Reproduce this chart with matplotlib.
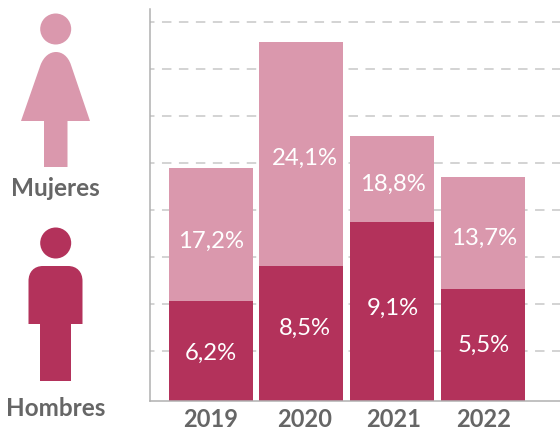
import matplotlib
matplotlib.use("Agg")
import matplotlib.pyplot as plt
from matplotlib.patches import Circle, PathPatch
from matplotlib.path import Path

plt.rcParams["font.family"] = "Lato"

# Data: bar heights do not follow the printed percentages, so both are kept
years = ["2019", "2020", "2021", "2022"]
hombres_alto = [100, 135, 179, 112]
mujeres_alto = [133, 224, 86, 112]
hombres_txt = ["6,2%", "8,5%", "9,1%", "5,5%"]
mujeres_txt = ["17,2%", "24,1%", "18,8%", "13,7%"]
grid_vals = [50, 97, 144, 191, 238, 285, 332, 379]

# Positions
bar_x = [0, 0.99, 2, 3]
hombres_y = [48, 73, 93, 56]
mujeres_y = [160, 243, 217, 163]
label_x = [0, 1.03, 2.01, 3.01]

ROSA = "#da98ad"
GRANATE = "#b3325b"
GRIS = "#666666"
W, H = 560, 430

fig = plt.figure(figsize=(W / 100, H / 100), dpi=100)
fig.patch.set_facecolor("white")

# Step 1: stacked bars
ax = fig.add_axes([149.5 / W, (H - 401.3) / H, (W - 149.5) / W, 392 / H])
ax.hlines(grid_vals, -0.733, 4, color="#c8c8c8", lw=1.1, linestyles=[(0, (6.2, 4.9))], zorder=1)
ax.bar(bar_x, hombres_alto, width=0.926, color=GRANATE, zorder=2)
ax.bar(bar_x, mujeres_alto, width=0.926, bottom=hombres_alto, color=ROSA, zorder=2)

for i in range(len(years)):
    ax.text(label_x[i], hombres_y[i], hombres_txt[i], color="white", fontsize=17.2,
            ha="center", va="center", zorder=3)
    ax.text(label_x[i], mujeres_y[i], mujeres_txt[i], color="white", fontsize=17.2,
            ha="center", va="center", zorder=3)

ax.set_xlim(-0.678, 3.849)
ax.set_ylim(0, 392)
ax.set_xticks(label_x)
ax.set_xticklabels(years, fontsize=17, fontweight="bold", color=GRIS)
ax.set_yticks([])
ax.tick_params(axis="x", length=0, pad=4.5)
for s in ["top", "right"]:
    ax.spines[s].set_visible(False)
for s in ["left", "bottom"]:
    ax.spines[s].set_color("#b0b0b0")
    ax.spines[s].set_linewidth(1.1)

# Step 2: figure icons, in pixel coordinates
ov = fig.add_axes([0, 0, 1, 1])
ov.set_xlim(0, W)
ov.set_ylim(H, 0)
ov.axis("off")
ov.patch.set_alpha(0)

ov.add_patch(Circle((55.7, 29), 15.5, color=ROSA, lw=0))
mujer = [
    (Path.MOVETO, (21, 121)), (Path.LINETO, (40.5, 65)),
    (Path.CURVE4, (44, 56)), (Path.CURVE4, (50, 52)), (Path.CURVE4, (56, 52)),
    (Path.CURVE4, (62, 52)), (Path.CURVE4, (68, 56)), (Path.CURVE4, (71, 65)),
    (Path.LINETO, (90, 121)), (Path.LINETO, (67.5, 121)), (Path.LINETO, (67.5, 167)),
    (Path.LINETO, (44, 167)), (Path.LINETO, (44, 121)), (Path.CLOSEPOLY, (21, 121)),
]
ov.add_patch(PathPatch(Path([p for _, p in mujer], [c for c, _ in mujer]), color=ROSA, lw=0))

ov.add_patch(Circle((55.7, 243), 15.5, color=GRANATE, lw=0))
hombre = [
    (Path.MOVETO, (28.5, 324)), (Path.LINETO, (28.5, 281)),
    (Path.CURVE4, (28.5, 272)), (Path.CURVE4, (34, 266)), (Path.CURVE4, (43, 266)),
    (Path.LINETO, (68, 266)),
    (Path.CURVE4, (77, 266)), (Path.CURVE4, (82.5, 272)), (Path.CURVE4, (82.5, 281)),
    (Path.LINETO, (82.5, 324)), (Path.LINETO, (71, 324)), (Path.LINETO, (71, 381)),
    (Path.LINETO, (40, 381)), (Path.LINETO, (40, 324)), (Path.CLOSEPOLY, (28.5, 324)),
]
ov.add_patch(PathPatch(Path([p for _, p in hombre], [c for c, _ in hombre]), color=GRANATE, lw=0))

ov.text(55.5, 188, "Mujeres", fontsize=17.5, fontweight="bold", color=GRIS, ha="center", va="center")
ov.text(55.5, 409, "Hombres", fontsize=17.5, fontweight="bold", color=GRIS, ha="center", va="center")

fig.savefig("out.png", dpi=100)
